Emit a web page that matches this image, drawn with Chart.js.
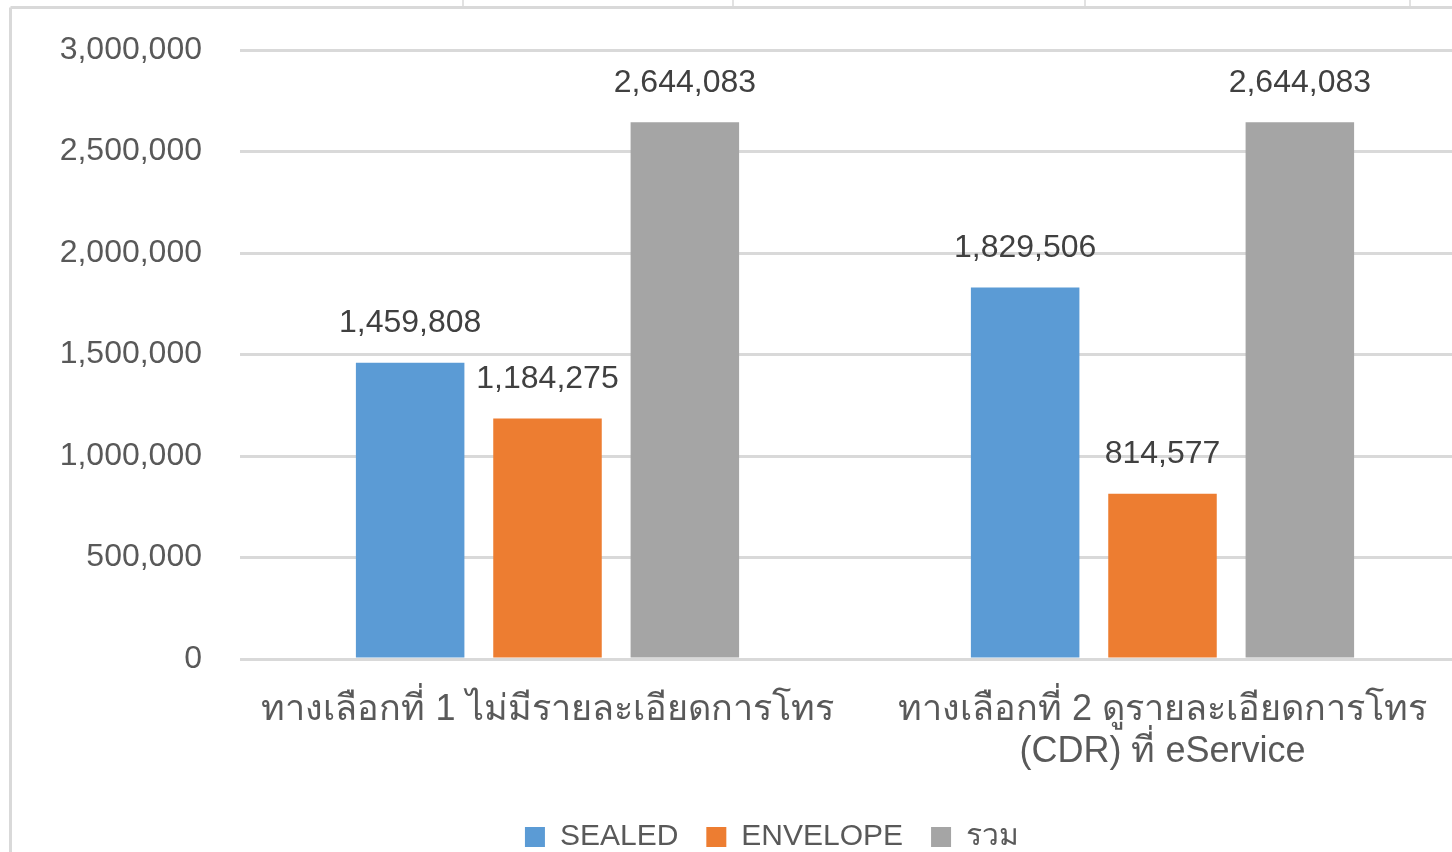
<!DOCTYPE html>
<html>
<head>
<meta charset="utf-8">
<script src="https://cdn.jsdelivr.net/npm/chart.js@4"></script>
<style>
    html, body { margin: 0; padding: 0; background: #fff; overflow: hidden; }
    #wrap { width: 1470px; height: 862px; }
</style>
</head>
<body>
<div id="wrap"><canvas id="chart" width="1470" height="862"></canvas></div>
<script>
const categories = [
    'ทางเลือกที่ 1 ไม่มีรายละเอียดการโทร',
    ['ทางเลือกที่ 2 ดูรายละเอียดการโทร', '(CDR) ที่ eService']
];
const seriesNames = ['SEALED', 'ENVELOPE', 'รวม'];
const sealed = [1459808, 1829506];
const envelope = [1184275, 814577];
const total = [2644083, 2644083];
const yTicks = [0, 500000, 1000000, 1500000, 2000000, 2500000, 3000000];

const colors = ['#5B9BD5', '#ED7D31', '#A5A5A5'];
const FONT = '"Liberation Sans", Arial, sans-serif';

const fmt = v => Number(v).toLocaleString('en-US');

// frame lines of the original chart box
const framePlugin = {
    id: 'frame',
    beforeDraw(chart) {
        const ctx = chart.ctx;
        ctx.save();
        ctx.strokeStyle = '#D9D9D9';
        ctx.lineWidth = 3;
        ctx.beginPath();
        ctx.moveTo(10.5, 7.5);
        ctx.lineTo(chart.width, 7.5);
        ctx.moveTo(10.5, 7.5);
        ctx.lineTo(10.5, chart.height);
        ctx.stroke();
        ctx.lineWidth = 1.5;
        ctx.beginPath();
        [463, 733, 1085, 1410].forEach(x => {
            ctx.moveTo(x, 0);
            ctx.lineTo(x, 6);
        });
        ctx.stroke();
        ctx.restore();
    }
};

// the legend in the original sits a bit right of the canvas centre
const legendShift = {
    id: 'legendShift',
    afterLayout(chart) {
        if (chart.legend) {
            chart.legend.left += 37;
            chart.legend.right += 37;
        }
    }
};

// value labels above each bar
const valueLabels = {
    id: 'valueLabels',
    afterDatasetsDraw(chart) {
        const ctx = chart.ctx;
        ctx.save();
        ctx.font = '32px ' + FONT;
        ctx.fillStyle = '#404040';
        ctx.textAlign = 'center';
        ctx.textBaseline = 'middle';
        chart.data.datasets.forEach((ds, i) => {
            chart.getDatasetMeta(i).data.forEach((bar, j) => {
                ctx.fillText(fmt(ds.data[j]), bar.x, bar.y - 39);
            });
        });
        ctx.restore();
    }
};

new Chart(document.getElementById('chart'), {
    type: 'bar',
    data: {
        labels: categories,
        datasets: [sealed, envelope, total].map((d, i) => ({
            label: seriesNames[i],
            data: d,
            backgroundColor: colors[i],
            borderWidth: 0,
            categoryPercentage: 0.67,
            barPercentage: 0.79
        }))
    },
    options: {
        responsive: false,
        devicePixelRatio: 1,
        animation: false,
        layout: { padding: { left: 0, right: 0, top: 50, bottom: 0 } },
        plugins: {
            tooltip: { enabled: false },
            legend: {
                position: 'bottom',
                labels: {
                    font: { family: FONT, size: 30 },
                    color: '#595959',
                    boxWidth: 20,
                    boxHeight: 20,
                    padding: 28
                }
            }
        },
        scales: {
            x: {
                grid: { display: false },
                border: { display: false },
                ticks: {
                    font: { family: FONT, size: 36, lineHeight: 1.17 },
                    color: '#595959',
                    padding: 22,
                    maxRotation: 0,
                    autoSkip: false
                },
                afterFit(scale) { scale.height = 135; }
            },
            y: {
                min: 0,
                max: 3000000,
                afterBuildTicks(scale) { scale.ticks = yTicks.map(v => ({ value: v })); },
                grid: { color: '#D9D9D9', lineWidth: 3, drawTicks: false },
                border: { display: false },
                ticks: {
                    font: { family: FONT, size: 32 },
                    color: '#595959',
                    padding: 38,
                    callback: v => fmt(v)
                },
                afterFit(scale) {
                    scale.width = 240;
                    scale.paddingTop = 0;
                    scale.paddingBottom = 0;
                }
            }
        }
    },
    plugins: [framePlugin, legendShift, valueLabels]
});
</script>
</body>
</html>
